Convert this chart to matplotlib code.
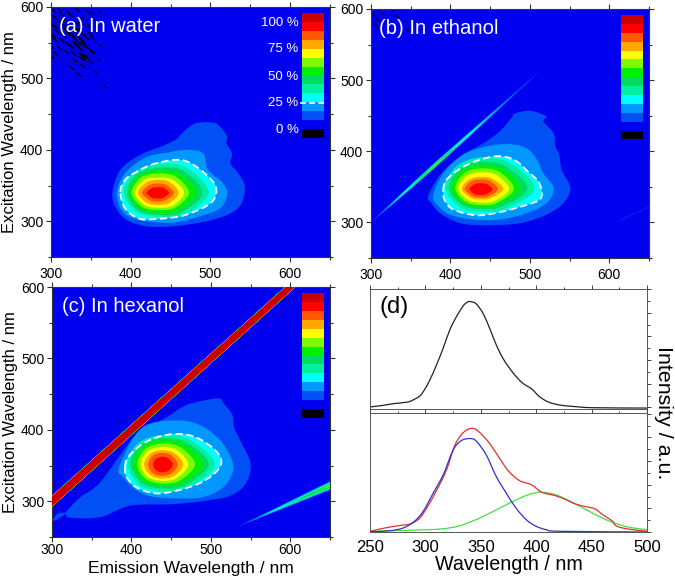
"""
plot.py - excitation/emission maps in three solvents plus spectra panel (d).
Contour outlines are read off the picture in nm and drawn as closed smooth paths.
"""
import numpy as np
import matplotlib
matplotlib.use("Agg")
import matplotlib.pyplot as plt
from matplotlib.patches import PathPatch, Polygon, Rectangle
from matplotlib.path import Path
from matplotlib.ticker import MultipleLocator

plt.rcParams["font.family"] = ["Liberation Sans", "DejaVu Sans"]

BG = "#0000F0"
LEVELS = ["#0050F5", "#0098FF", "#00FFFF", "#00F0A0", "#00DC60", "#00F000",
          "#80F800", "#FFFF00", "#FFA800", "#FF5800", "#FF0000", "#C80000"]
LEGEND_LABELS = ["100 %", "75 %", "50 %", "25 %", "0 %"]

# --- panel (a), outlines in (emission, excitation) nm
A_L1 = [(377, 339), (387, 372), (412, 393), (437, 404), (456, 414), (466, 425), (481, 437), (504, 438),
        (514, 430), (521, 418), (520, 409), (527, 395), (525, 381), (535, 367), (543, 349), (539, 325),
        (525, 311), (495, 300), (453, 293), (420, 293), (395, 302), (382, 318)]
A_L2 = [(383, 344), (395, 370), (420, 390), (445, 396), (470, 400), (491, 395), (497, 372), (516, 353),
        (521, 337), (512, 318), (487, 307), (453, 298), (420, 300), (397, 307), (386, 321)]
A_L3 = [(387, 341), (393, 358), (407, 369), (428, 380), (456, 386), (474, 382), (495, 365), (507, 348),
        (504, 330), (489, 318), (462, 307), (428, 303), (410, 304), (393, 318)]
A_CENTER = (434, 340)
# radii at 0, 45, ... 315 degrees for the inner levels
A_RADII = [[64, 50, 40, 41, 43, 38, 34, 45], [56, 44, 35, 37, 39, 35, 31, 40], [48, 38, 31, 33, 36, 31, 28, 35],
           [39, 32, 27, 30, 33, 28, 24, 30], [33, 26, 21, 25, 29, 24, 21, 26], [26, 21, 18, 20.5, 25, 20, 17, 20.5],
           [20, 15, 13, 15, 20, 14.5, 12.6, 14.5], [14, 9.5, 7.5, 9.5, 14, 10, 8, 10]]
A_SPECK_EM = [303, 310, 322, 333, 345, 352, 362, 305, 315, 326, 340, 355, 302, 318, 332, 347, 308, 322, 336, 350,
              358, 304, 314, 328, 340, 352, 300, 310, 322, 334, 345, 362, 306, 320, 338, 352, 330, 342, 350, 360,
              326, 340, 335, 356, 368, 337, 328, 343, 316, 301, 495, 530, 312, 319, 326, 334, 341, 348, 306, 313,
              330, 337, 344, 325, 303, 345, 352, 338, 331]
A_SPECK_EX = [595, 597, 592, 596, 594, 591, 593, 585, 583, 587, 584, 582, 575, 573, 577, 574, 565, 563, 566, 562,
              570, 555, 553, 557, 552, 556, 545, 543, 547, 550, 544, 546, 535, 537, 533, 536, 525, 527, 523, 526,
              515, 517, 505, 508, 489, 541, 535, 531, 560, 530, 451, 590, 578, 568, 561, 559, 547, 541, 572, 590,
              570, 577, 558, 545, 560, 530, 538, 528, 548]
A_SPECK_SIZE = [22, 18, 26, 22, 18, 13, 13, 26, 22, 22, 18, 13, 30, 22, 26, 18, 26, 30, 38, 22, 13, 26, 22, 26, 38,
                18, 22, 18, 22, 34, 22, 13, 26, 18, 26, 18, 26, 22, 18, 13, 22, 22, 22, 13, 13, 30, 26, 30, 22, 18,
                4, 4, 22, 26, 34, 38, 34, 22, 22, 18, 30, 26, 34, 26, 22, 18, 18, 26, 30]

# --- panel (b)
B_L1 = [(372, 337), (387, 367), (412, 393), (441, 411), (462, 428), (477, 447), (481, 453), (500, 457),
        (521, 449), (517, 442), (530, 425), (532, 407), (537, 395), (540, 374), (551, 348), (542, 327),
        (521, 311), (488, 299), (446, 296), (412, 299), (387, 313), (376, 327)]
B_L2 = [(378, 337), (391, 369), (416, 395), (446, 407), (475, 410), (496, 404), (509, 388), (517, 369),
        (530, 348), (521, 327), (496, 313), (462, 304), (429, 304), (399, 311), (385, 323)]
B_L3 = [(391, 345), (394, 358), (406, 371), (429, 385), (458, 393), (480, 388), (498, 371), (511, 357),
        (515, 341), (511, 331), (488, 322), (460, 314), (433, 310), (404, 318), (393, 331)]
B_CENTER = (438, 347)
B_RADII = [[68, 52, 44.5, 44, 44, 36.6, 32, 41], [59, 45, 38, 38.7, 39.5, 32.3, 28, 35.7],
           [50, 39.8, 34, 35, 36.5, 29, 25, 31], [42, 33.7, 29, 30.4, 32, 26, 22.5, 28],
           [36, 27.8, 23.5, 25.5, 28, 22.2, 19, 24], [28.6, 20.7, 17, 19.5, 24, 17.6, 14.5, 18.2],
           [22, 16.4, 13.6, 15.9, 20, 14.3, 11.7, 14.6], [15, 10, 8, 9.8, 14, 10.2, 8.4, 10.3]]
B_SPECK_EM = [302, 308, 314, 326, 331, 344, 306, 318]
B_SPECK_EX = [593, 586, 594, 598, 590, 572, 578, 584]
# first-order scatter line: level, start em, peak em, end em, half width at peak
B_LINE_START = [300, 306, 320, 335, 350, 360, 368]
B_LINE_PEAK = [380, 380, 380, 380, 380, 380, 380]
B_LINE_END = [515, 482, 462, 425, 408, 400, 394]
B_LINE_HW = [4.2, 3.4, 2.8, 2.3, 1.8, 1.3, 0.8]
# faint second-order trace
B_TRACE_EM = [612, 650]
B_TRACE_EX = [302, 322]

# --- panel (c)
C_L1 = [(319, 287), (336, 306), (361, 327), (399, 385), (420, 404), (445, 418), (470, 435), (508, 444),
        (516, 437), (527, 421), (529, 404), (537, 385), (550, 353), (544, 325), (525, 308), (495, 301),
        (453, 296), (399, 294), (361, 278), (323, 277), (317, 283)]
C_L1_SMALL = [(301, 274), (308, 283), (317, 283), (306, 274)]
C_L2 = [(384, 346), (403, 390), (424, 409), (464, 413), (491, 404), (512, 385), (525, 362), (528, 343),
        (516, 320), (491, 306), (458, 304), (424, 307), (403, 318), (390, 334)]
C_L3 = [(392, 348), (396, 362), (415, 381), (440, 392), (465, 394), (486, 387), (505, 372), (513, 358),
        (509, 344), (489, 327), (461, 316), (432, 311), (407, 319), (394, 334)]
C_CENTER = (438, 351.5)
C_RADII = [[67, 49.5, 41, 42, 43, 40, 37.4, 46.2], [59, 44, 37, 38, 39, 36, 33.6, 41.3],
           [52.5, 40, 34, 34.5, 35, 32.2, 30, 36.8], [42, 34, 29.4, 30, 30.7, 28.4, 26.6, 31.8],
           [33.6, 28, 24.8, 25.6, 26.5, 24.6, 23, 26.8], [27, 22.7, 20, 21, 22, 20.7, 19.6, 22.4],
           [20, 18, 16.4, 16.7, 17, 16.5, 16, 17.7], [14, 12, 10.7, 10.6, 10.5, 10.7, 11, 12.2]]
# thick first-order band: half widths (nm) at both ends, per colour layer, outer first
C_BAND_EM = [298, 606]
C_BAND_HW_LOW = [8.0, 7.85, 7.7, 7.6, 7.5, 7.4, 7.3, 7.2, 7.1, 7.05, 7.0, 6.9]
C_BAND_HW_HIGH = [6.8, 6.65, 6.5, 6.4, 6.3, 6.2, 6.1, 6.0, 5.9, 5.85, 5.8, 5.6]
# second-order band: start em and half width at 650 nm
C_SECOND_START = [533, 545, 560, 575, 590, 605, 625]
C_SECOND_HW = [6.5, 5.5, 4.5, 3.5, 2.5, 1.6, 0.9]
C_SECOND_EX_AT = (533, 264, 650, 322)

# --- panel (d)
EXC_X = [250, 262, 271, 284, 290, 295, 299, 304, 310, 316, 322, 328, 334, 338, 341, 346, 352, 358, 364, 370,
         376, 382, 388, 396, 403, 411, 421, 433, 451, 500]
EXC_Y = [.003, .017, .031, .045, .068, .096, .146, .231, .358, .499, .654, .766, .856, .89, .893, .873, .794,
         .668, .527, .414, .330, .259, .203, .155, .090, .045, .020, .008, -.003, -.006]
RED_X = [250, 259, 268, 278, 287, 295, 302, 310, 319, 326, 332, 338, 344, 350, 358, 367, 375, 385, 396, 405,
         418, 427, 435, 444, 453, 460, 468, 472, 478, 487, 500]
RED_Y = [.006, .025, .042, .056, .07, .118, .216, .35, .524, .72, .818, .866, .874, .832, .748, .622, .515,
         .434, .398, .336, .305, .272, .238, .216, .196, .146, .098, .053, .034, .02, .006]
BLUE_X = [250, 268, 280, 290, 298, 307, 316, 325, 332, 340, 346, 355, 364, 373, 382, 391, 400, 409, 421, 500]
BLUE_Y = [0, .011, .034, .09, .174, .328, .482, .692, .77, .79, .768, .65, .468, .328, .2, .104, .048, .02,
          .006, 0]
GREEN_X = [250, 283, 313, 331, 349, 364, 379, 394, 405, 418, 433, 448, 463, 478, 490, 500]
GREEN_Y = [.006, .014, .025, .053, .118, .188, .258, .319, .336, .314, .249, .174, .104, .053, .031, .02]

# slanted streak used for the 0 % specks
STREAK = [(-1.0, 0.7), (-0.4, 0.7), (1.0, -0.7), (0.4, -0.7)]


def smooth_path(pts):
    # closed Catmull-Rom outline written as cubic bezier segments
    p = np.asarray(pts, float)
    n = len(p)
    verts = [p[0]]
    codes = [Path.MOVETO]
    for i in range(n):
        p0, p1, p2, p3 = p[i - 1], p[i], p[(i + 1) % n], p[(i + 2) % n]
        verts += [p1 + (p2 - p0) / 6, p2 - (p3 - p1) / 6, p2]
        codes += [Path.CURVE4] * 3
    return Path(verts, codes)


def smooth_line(ax, xs, ys, color, lw):
    # open Catmull-Rom through the read points
    p = np.column_stack((xs, ys)).astype(float)
    n = len(p)
    verts = [p[0]]
    codes = [Path.MOVETO]
    for i in range(n - 1):
        p0, p1, p2, p3 = p[max(i - 1, 0)], p[i], p[i + 1], p[min(i + 2, n - 1)]
        verts += [p1 + (p2 - p0) / 6, p2 - (p3 - p1) / 6, p2]
        codes += [Path.CURVE4] * 3
    ax.add_patch(PathPatch(Path(verts, codes), facecolor="none", edgecolor=color, lw=lw))


def radial_outline(center, radii):
    ang = np.deg2rad(np.arange(0, 360, 360 / len(radii)))
    r = np.asarray(radii, float)
    return np.column_stack((center[0] + r * np.cos(ang), center[1] + r * np.sin(ang)))


def map_axes(fig, box, xpad, show_legend_text=False):
    # box given in pixels: left, top, right, bottom
    l, t, r, b = box
    ax = fig.add_axes([l / 675, 1 - b / 577, (r - l) / 675, (b - t) / 577])
    ax.set_xlim(300, 650)
    ax.set_ylim(250, 600)
    ax.set_facecolor(BG)
    ax.xaxis.set_major_locator(MultipleLocator(100))
    ax.xaxis.set_minor_locator(MultipleLocator(50))
    ax.yaxis.set_major_locator(MultipleLocator(100))
    ax.yaxis.set_minor_locator(MultipleLocator(50))
    ax.tick_params(which="both", top=True, right=True, direction="out", labelsize=10, width=0.8, pad=2,
                   color="#333333")
    ax.tick_params(axis="x", which="both", pad=xpad)
    ax.tick_params(which="major", length=3.5)
    ax.tick_params(which="minor", length=2)
    ax.set_yticks([300, 400, 500, 600])
    for s in ax.spines.values():
        s.set_linewidth(0.8)
        s.set_color("#333333")
    # legend strip
    n = len(LEVELS)
    top, bottom = 0.976, 0.548
    h = (top - bottom) / n
    for i, c in enumerate(LEVELS):
        ax.add_patch(Rectangle((0.90, bottom + i * h), 0.078, h, transform=ax.transAxes, color=c, lw=0, zorder=6))
    ax.add_patch(Rectangle((0.90, 0.476), 0.078, 0.035, transform=ax.transAxes, color="black", lw=0, zorder=6))
    if show_legend_text:
        for lab, y in zip(LEGEND_LABELS, [0.9375, 0.83, 0.72, 0.614, 0.508]):
            ax.text(0.887, y, lab, transform=ax.transAxes, color="white", ha="right", va="center", fontsize=9.5,
                    zorder=7)
        ax.plot([0.893, 0.985], [0.617, 0.617], transform=ax.transAxes, color="white", lw=1.2, ls=(0, (3.5, 2)),
                zorder=7)
    return ax


def draw_blob(ax, outer, center, radii):
    for i, pts in enumerate(outer):
        ax.add_patch(PathPatch(smooth_path(pts), facecolor=LEVELS[i], edgecolor="none", zorder=3 + i * 0.01))
    for j, row in enumerate(radii):
        ax.add_patch(PathPatch(smooth_path(radial_outline(center, row)), facecolor=LEVELS[3 + j],
                               edgecolor="none", zorder=3.1 + j * 0.01))
    # dashed white contour on the 25 % level
    ax.add_patch(PathPatch(smooth_path(outer[2]), facecolor="none", edgecolor="white", lw=1.3,
                           ls=(0, (4, 2)), zorder=4))


def lens(ax, x0, xp, x1, hw, color, z=2.5):
    # spindle along the diagonal em = ex, rounded by the 0.7 shoulder points
    xa, xb = (x0 + xp) / 2, (xp + x1) / 2
    xs = [x0, xa, xp, xb, x1]
    ws = [0, 0.7 * hw, hw, 0.7 * hw, 0]
    upper = [(x, x + w) for x, w in zip(xs, ws)]
    lower = [(x, x - w) for x, w in zip(xs, ws)]
    ax.add_patch(Polygon(upper + lower[::-1], closed=True, facecolor=color, edgecolor="none", zorder=z))


fig = plt.figure(figsize=(6.75, 5.77), dpi=100)

# (a)
ax = map_axes(fig, (51, 7, 330, 257), xpad=3.5, show_legend_text=True)
draw_blob(ax, [A_L1, A_L2, A_L3], A_CENTER, A_RADII)
ax.scatter(A_SPECK_EM, A_SPECK_EX, s=A_SPECK_SIZE, c="black", marker=STREAK, linewidths=0, zorder=2)
ax.text(0.03, 0.92, "(a) In water", transform=ax.transAxes, color="white", fontsize=14.4, va="center", zorder=7)
ax.set_ylabel("Excitation Wavelength / nm", fontsize=12, labelpad=2)

# (b)
ax = map_axes(fig, (371, 9, 649, 258), xpad=3.5)
for k in range(len(B_LINE_START)):
    lens(ax, B_LINE_START[k], B_LINE_PEAK[k], B_LINE_END[k], B_LINE_HW[k], LEVELS[k], z=2.5 + k * 0.01)
ax.plot(B_TRACE_EM, B_TRACE_EX, color="#0020F4", lw=0.8, zorder=2)
draw_blob(ax, [B_L1, B_L2, B_L3], B_CENTER, B_RADII)
ax.scatter(B_SPECK_EM, B_SPECK_EX, s=14, c="black", marker=STREAK, linewidths=0, zorder=2)
ax.text(0.03, 0.92, "(b) In ethanol", transform=ax.transAxes, color="white", fontsize=14.6, va="center", zorder=7)

# (c)
ax = map_axes(fig, (52, 287, 330, 537), xpad=1)
ax.add_patch(PathPatch(smooth_path(C_L1_SMALL), facecolor=LEVELS[0], edgecolor="none", zorder=2))
draw_blob(ax, [C_L1, C_L2, C_L3], C_CENTER, C_RADII)
x0, x1 = C_BAND_EM
for k, c in enumerate(LEVELS):
    ax.add_patch(Polygon([(x0, x0 + C_BAND_HW_LOW[k]), (x1, x1 + C_BAND_HW_HIGH[k]),
                          (x1, x1 - C_BAND_HW_HIGH[k]), (x0, x0 - C_BAND_HW_LOW[k])],
                         closed=True, facecolor=c, edgecolor="none", zorder=5 + k * 0.01))
sx0, sy0, sx1, sy1 = C_SECOND_EX_AT
for k in range(len(C_SECOND_START)):
    st = C_SECOND_START[k]
    yst = sy0 + (st - sx0) * (sy1 - sy0) / (sx1 - sx0)
    hw = C_SECOND_HW[k]
    ax.add_patch(Polygon([(st, yst), (sx1, sy1 + hw), (sx1, sy1 - hw)], closed=True, facecolor=LEVELS[k],
                         edgecolor="none", zorder=3 + k * 0.01))
ax.text(0.035, 0.92, "(c) In hexanol", transform=ax.transAxes, color="white", fontsize=14.5, va="center", zorder=7)
ax.set_xlabel("Emission Wavelength / nm", fontsize=12.5, labelpad=3)
ax.set_ylabel("Excitation Wavelength / nm", fontsize=12, labelpad=2)

# (d)
top = fig.add_axes([370 / 675, 1 - 409 / 577, 277 / 675, 120 / 577])
low = fig.add_axes([370 / 675, 1 - 532 / 577, 277 / 675, 119 / 577])
smooth_line(top, EXC_X, EXC_Y, "#222222", 0.9)
smooth_line(low, GREEN_X, GREEN_Y, "#40E040", 0.9)
smooth_line(low, RED_X, RED_Y, "#E03030", 0.9)
smooth_line(low, BLUE_X, BLUE_Y, "#3030D0", 0.9)
top.set_ylim(-0.014, 1.0)
low.set_ylim(0, 1.006)
for a in (top, low):
    a.set_xlim(250, 500)
    a.xaxis.set_major_locator(MultipleLocator(50))
    a.xaxis.set_minor_locator(MultipleLocator(25))
    a.yaxis.set_major_locator(MultipleLocator(0.2))
    a.yaxis.set_minor_locator(MultipleLocator(0.1))
    a.tick_params(which="both", top=True, right=True, left=False, bottom=True, direction="out", width=0.7,
                  color="#444444", labelleft=False)
    a.tick_params(which="major", length=3)
    a.tick_params(which="minor", length=1.8)
    for s in a.spines.values():
        s.set_linewidth(0.7)
        s.set_color("#555555")
top.tick_params(which="both", bottom=False, labelbottom=False)
low.tick_params(which="both", bottom=False, labelsize=12, pad=3)
low.set_xlabel("Wavelength / nm", fontsize=14.2, labelpad=0)
top.text(0.035, 0.85, "(d)", transform=top.transAxes, fontsize=17, va="center")
fig.text(664 / 675, 1 - 413 / 577, "Intensity / a.u.", rotation=-90, ha="center", va="center", fontsize=15.4)

fig.savefig("out.png", dpi=100, facecolor="white")
plt.close(fig)
